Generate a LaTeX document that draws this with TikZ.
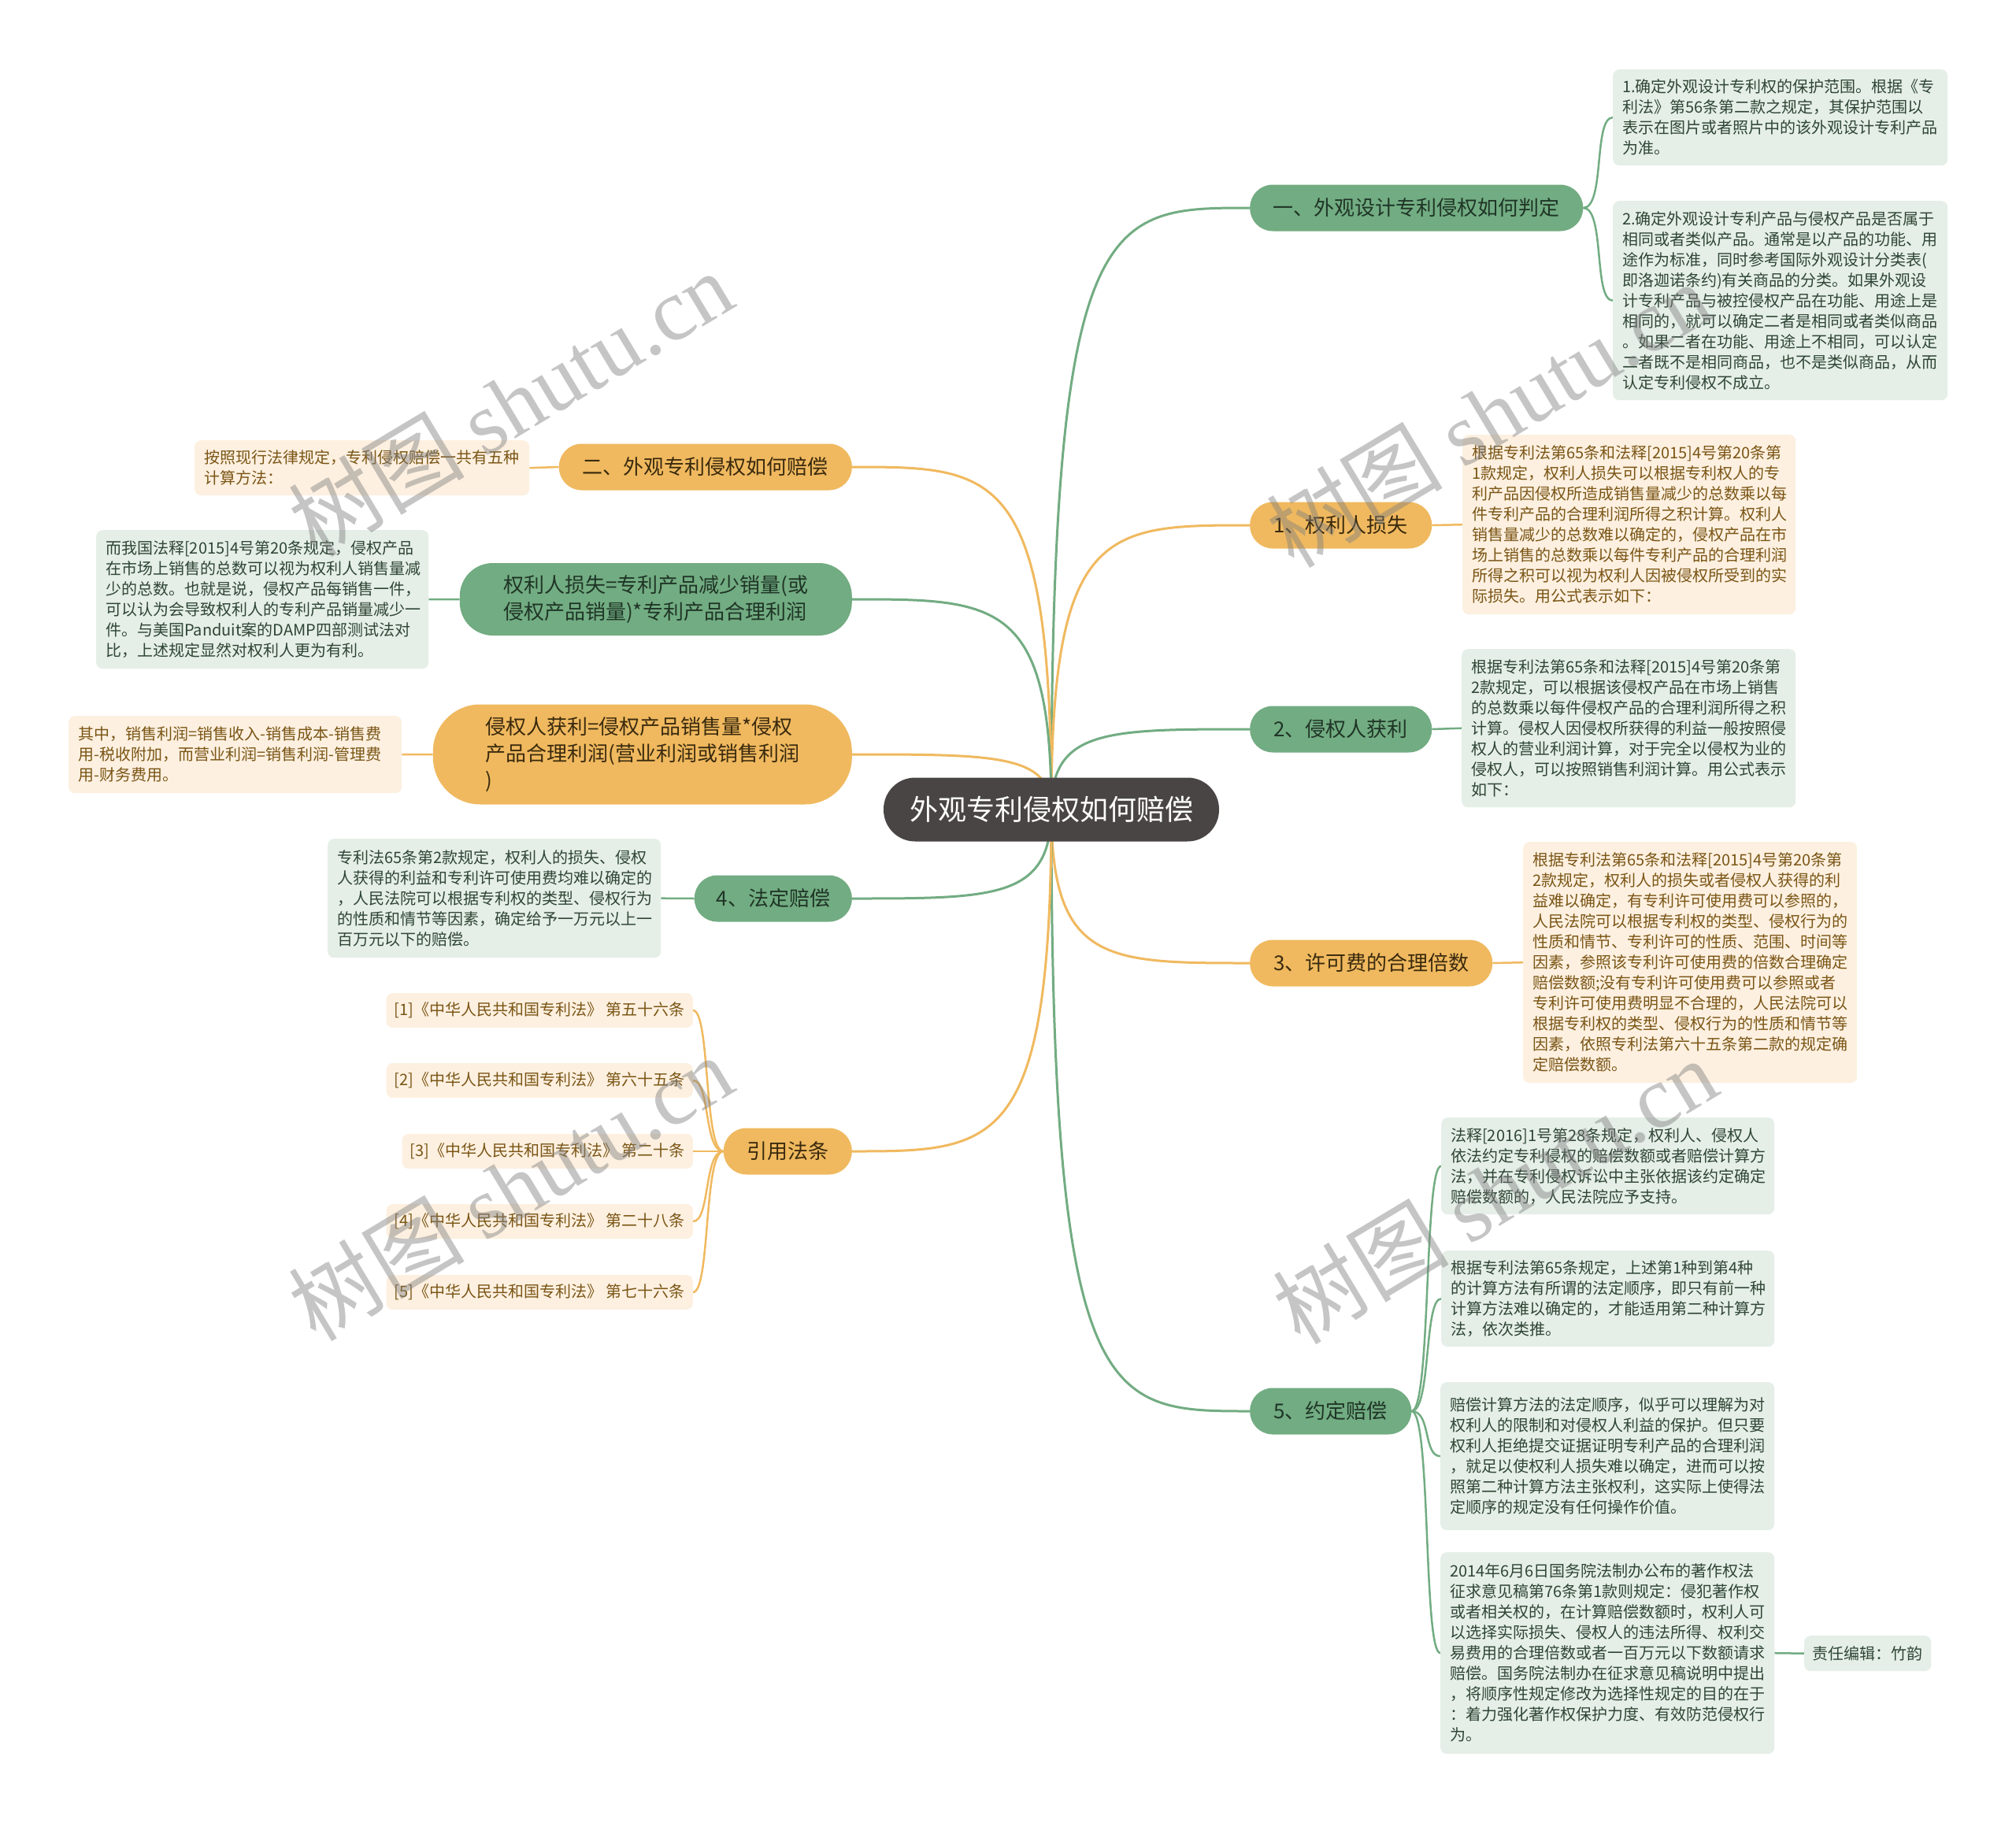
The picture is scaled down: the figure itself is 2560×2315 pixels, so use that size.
\documentclass[tikz,border=0pt]{standalone}
\usepackage{fontspec}
\setmainfont{Noto Sans CJK SC}
\newfontfamily\wmserif{Liberation Serif}
\usetikzlibrary{calc,backgrounds}
\definecolor{gnode}{HTML}{72AC82}
\definecolor{onode}{HTML}{F0B95F}
\definecolor{gbox}{HTML}{E5EFE7}
\definecolor{obox}{HTML}{FDF0E0}
\definecolor{gtext}{HTML}{2F4535}
\definecolor{otext}{HTML}{7A5515}
\definecolor{gmain}{HTML}{1F3526}
\definecolor{omain}{HTML}{3A2A0E}
\definecolor{rootc}{HTML}{4A4545}
\tikzset{
  mainnode/.style={rounded corners=29pt, minimum height=59pt, inner sep=0pt, font=\fontsize{26}{34}\selectfont},
  gmainnode/.style={mainnode, fill=gnode, text=gmain},
  omainnode/.style={mainnode, fill=onode, text=omain},
  detail/.style={rounded corners=8pt, inner xsep=12pt, inner ysep=0pt, align=left, font=\fontsize{20}{26}\selectfont, anchor=north west},
  gdetail/.style={detail, fill=gbox, text=gtext},
  odetail/.style={detail, fill=obox, text=otext},
  gline/.style={draw=gnode, line width=3pt},
  oline/.style={draw=onode, line width=3pt},
  gthin/.style={draw=gnode, line width=2.5pt},
  othin/.style={draw=onode, line width=2.5pt},
  wm/.style={text=black!50, opacity=0.45, rotate=31, font=\fontsize{112}{112}\selectfont}
}
\newcommand\rootR[2]{\draw[#1] (root.center) .. controls (root.center |- #2.west) and ($(root.center |- #2.west)+(70,0)$) .. (#2.west);}
\newcommand\rootL[2]{\draw[#1] (root.center) .. controls (root.center |- #2.east) and ($(root.center |- #2.east)+(-70,0)$) .. (#2.east);}
\begin{document}
\begin{tikzpicture}[x=1pt,y=-1pt]
\useasboundingbox (0,0) rectangle (2560,2315);

% root
\node[fill=rootc, text=white, rounded corners=40pt, minimum width=426pt, minimum height=81pt, inner sep=0pt, font=\fontsize{36}{36}\selectfont] (root) at (1335,1028) {外观专利侵权如何赔偿};

% right main branches
\node[gmainnode, minimum width=423pt, anchor=west] (r1) at (1587,264) {一、外观设计专利侵权如何判定};
\node[omainnode, minimum width=231pt, anchor=west] (r2) at (1587,667) {1、权利人损失};
\node[gmainnode, minimum width=231pt, anchor=west] (r3) at (1587,926) {2、侵权人获利};
\node[omainnode, minimum width=308pt, anchor=west] (r4) at (1587,1223) {3、许可费的合理倍数};
\node[gmainnode, minimum width=205pt, anchor=west] (r5) at (1587,1792) {5、约定赔偿};

% left main branches
\node[omainnode, minimum width=372pt, anchor=east] (l1) at (1082,593) {二、外观专利侵权如何赔偿};
\node[gmainnode, minimum width=498pt, minimum height=92pt, rounded corners=42pt, align=left, anchor=east] (l2) at (1082,761) {权利人损失=专利产品减少销量(或\\侵权产品销量)*专利产品合理利润};
\node[omainnode, minimum width=532pt, minimum height=127pt, rounded corners=60pt, align=left, anchor=east] (l3) at (1082,958) {侵权人获利=侵权产品销售量*侵权\\产品合理利润(营业利润或销售利润\\)};
\node[gmainnode, minimum width=200pt, anchor=east] (l4) at (1082,1141) {4、法定赔偿};
\node[omainnode, minimum width=163pt, anchor=east] (l5) at (1082,1462) {引用法条};

% right details
\node[gdetail, text width=401pt, minimum height=122pt] (b1) at (2048,88) {1.确定外观设计专利权的保护范围。根据《专\\利法》第56条第二款之规定，其保护范围以\\表示在图片或者照片中的该外观设计专利产品\\为准。};
\node[gdetail, text width=401pt, minimum height=253pt] (b2) at (2048,255) {2.确定外观设计专利产品与侵权产品是否属于\\相同或者类似产品。通常是以产品的功能、用\\途作为标准，同时参考国际外观设计分类表(\\即洛迦诺条约)有关商品的分类。如果外观设\\计专利产品与被控侵权产品在功能、用途上是\\相同的，就可以确定二者是相同或者类似商品\\。如果二者在功能、用途上不相同，可以认定\\二者既不是相同商品，也不是类似商品，从而\\认定专利侵权不成立。};
\node[odetail, text width=399pt, minimum height=228pt] (o1) at (1857,552) {根据专利法第65条和法释[2015]4号第20条第\\1款规定，权利人损失可以根据专利权人的专\\利产品因侵权所造成销售量减少的总数乘以每\\件专利产品的合理利润所得之积计算。权利人\\销售量减少的总数难以确定的，侵权产品在市\\场上销售的总数乘以每件专利产品的合理利润\\所得之积可以视为权利人因被侵权所受到的实\\际损失。用公式表示如下：};
\node[gdetail, text width=400pt, minimum height=201pt] (g2) at (1856,824) {根据专利法第65条和法释[2015]4号第20条第\\2款规定，可以根据该侵权产品在市场上销售\\的总数乘以每件侵权产品的合理利润所得之积\\计算。侵权人因侵权所获得的利益一般按照侵\\权人的营业利润计算，对于完全以侵权为业的\\侵权人，可以按照销售利润计算。用公式表示\\如下：};
\node[odetail, text width=400pt, minimum height=306pt] (o3) at (1934,1069) {根据专利法第65条和法释[2015]4号第20条第\\2款规定，权利人的损失或者侵权人获得的利\\益难以确定，有专利许可使用费可以参照的，\\人民法院可以根据专利权的类型、侵权行为的\\性质和情节、专利许可的性质、范围、时间等\\因素，参照该专利许可使用费的倍数合理确定\\赔偿数额;没有专利许可使用费可以参照或者\\专利许可使用费明显不合理的，人民法院可以\\根据专利权的类型、侵权行为的性质和情节等\\因素，依照专利法第六十五条第二款的规定确\\定赔偿数额。};
\node[gdetail, text width=399pt, minimum height=123pt] (s1) at (1830,1419) {法释[2016]1号第28条规定，权利人、侵权人\\依法约定专利侵权的赔偿数额或者赔偿计算方\\法，并在专利侵权诉讼中主张依据该约定确定\\赔偿数额的，人民法院应予支持。};
\node[gdetail, text width=399pt, minimum height=122pt] (s2) at (1830,1588) {根据专利法第65条规定，上述第1种到第4种\\的计算方法有所谓的法定顺序，即只有前一种\\计算方法难以确定的，才能适用第二种计算方\\法，依次类推。};
\node[gdetail, text width=400pt, minimum height=188pt] (s3) at (1829,1755) {赔偿计算方法的法定顺序，似乎可以理解为对\\权利人的限制和对侵权人利益的保护。但只要\\权利人拒绝提交证据证明专利产品的合理利润\\，就足以使权利人损失难以确定，进而可以按\\照第二种计算方法主张权利，这实际上使得法\\定顺序的规定没有任何操作价值。};
\node[gdetail, text width=400pt, minimum height=256pt] (s4) at (1829,1971) {2014年6月6日国务院法制办公布的著作权法\\征求意见稿第76条第1款则规定：侵犯著作权\\或者相关权的，在计算赔偿数额时，权利人可\\以选择实际损失、侵权人的违法所得、权利交\\易费用的合理倍数或者一百万元以下数额请求\\赔偿。国务院法制办在征求意见稿说明中提出\\，将顺序性规定修改为选择性规定的目的在于\\：着力强化著作权保护力度、有效防范侵权行\\为。};
\node[gdetail, text width=141pt, minimum height=45pt, inner xsep=10pt] (ed) at (2291,2077) {责任编辑：竹韵};

% left details
\node[odetail, text width=401pt, minimum height=70pt] (d1) at (247,559) {按照现行法律规定，专利侵权赔偿一共有五种\\计算方法：};
\node[gdetail, text width=398pt, minimum height=176pt] (d2) at (122,673) {而我国法释[2015]4号第20条规定，侵权产品\\在市场上销售的总数可以视为权利人销售量减\\少的总数。也就是说，侵权产品每销售一件，\\可以认为会导致权利人的专利产品销量减少一\\件。与美国Panduit案的DAMP四部测试法对\\比，上述规定显然对权利人更为有利。};
\node[odetail, text width=399pt, minimum height=98pt] (d3) at (87,909) {其中，销售利润=销售收入-销售成本-销售费\\用-税收附加，而营业利润=销售利润-管理费\\用-财务费用。};
\node[gdetail, text width=399pt, minimum height=151pt] (d4) at (416,1065) {专利法65条第2款规定，权利人的损失、侵权\\人获得的利益和专利许可使用费均难以确定的\\，人民法院可以根据专利权的类型、侵权行为\\的性质和情节等因素，确定给予一万元以上一\\百万元以下的赔偿。};

% citations
\node[odetail, anchor=east, minimum height=44pt, inner xsep=10pt] (c1) at (880,1283) {[1]《中华人民共和国专利法》 第五十六条};
\node[odetail, anchor=east, minimum height=44pt, inner xsep=10pt] (c2) at (880,1372) {[2]《中华人民共和国专利法》 第六十五条};
\node[odetail, anchor=east, minimum height=44pt, inner xsep=10pt] (c3) at (880,1462) {[3]《中华人民共和国专利法》 第二十条};
\node[odetail, anchor=east, minimum height=44pt, inner xsep=10pt] (c4) at (880,1551) {[4]《中华人民共和国专利法》 第二十八条};
\node[odetail, anchor=east, minimum height=44pt, inner xsep=10pt] (c5) at (880,1641) {[5]《中华人民共和国专利法》 第七十六条};

% connectors
\begin{scope}[on background layer]
\fill[white] (0,0) rectangle (2560,2315);
\rootR{gline}{r1}
\rootR{oline}{r2}
\rootR{gline}{r3}
\rootR{oline}{r4}
\rootR{gline}{r5}
\rootL{oline}{l1}
\rootL{gline}{l2}
\rootL{oline}{l3}
\rootL{gline}{l4}
\rootL{oline}{l5}
\draw[gthin] (r1.east) .. controls +(28,0) and +(-25,0) .. (b1.west);
\draw[gthin] (r1.east) .. controls +(28,0) and +(-25,0) .. (b2.west);
\draw[othin] (r2.east) -- (o1.west);
\draw[gthin] (r3.east) -- (g2.west);
\draw[othin] (r4.east) -- (o3.west);
\draw[gthin] (r5.east) .. controls +(25,0) and +(-22,0) .. (s1.west);
\draw[gthin] (r5.east) .. controls +(25,0) and +(-22,0) .. (s2.west);
\draw[gthin] (r5.east) .. controls +(25,0) and +(-22,0) .. (s3.west);
\draw[gthin] (r5.east) .. controls +(25,0) and +(-22,0) .. (s4.west);
\draw[gthin] (s4.east) -- (ed.west);
\draw[othin] (l1.west) -- (d1.east);
\draw[gthin] (l2.west) -- (d2.east);
\draw[othin] (l3.west) -- (d3.east);
\draw[gthin] (l4.west) -- (d4.east);
\draw[othin] (l5.west) .. controls +(-25,0) and +(22,0) .. (c1.east);
\draw[othin] (l5.west) .. controls +(-25,0) and +(22,0) .. (c2.east);
\draw[othin] (l5.west) -- (c3.east);
\draw[othin] (l5.west) .. controls +(-25,0) and +(22,0) .. (c4.east);
\draw[othin] (l5.west) .. controls +(-25,0) and +(22,0) .. (c5.east);
\end{scope}

% watermarks
\node[wm] (w1) at (648,512) {树图 {\wmserif shutu.cn}};
\node[wm] (w2) at (1890,526) {树图 {\wmserif shutu.cn}};
\node[wm] (w3) at (648,1508) {树图 {\wmserif shutu.cn}};
\node[wm] (w4) at (1898,1512) {树图 {\wmserif shutu.cn}};
\end{tikzpicture}
\end{document}
